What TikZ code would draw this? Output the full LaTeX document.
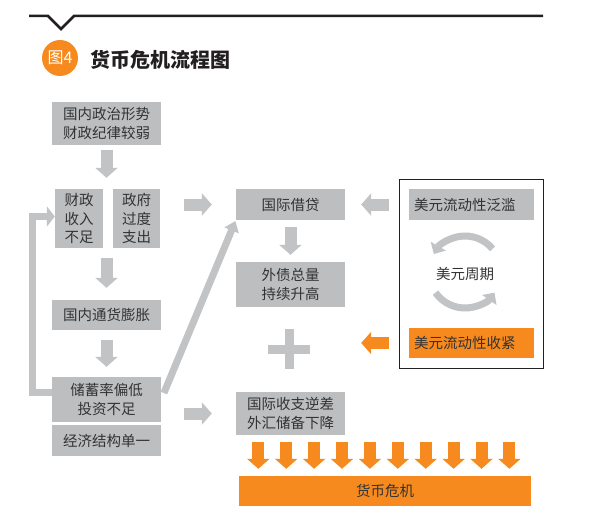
\documentclass[tikz,border=0pt]{standalone}
\usepackage{fontspec}
\newfontfamily\cjk{Noto Sans CJK SC}
\usetikzlibrary{arrows.meta,calc}
\definecolor{boxgray}{HTML}{BCBEC0}
\definecolor{argray}{HTML}{C2C3C5}
\definecolor{orng}{HTML}{F68A1F}
\definecolor{txt}{HTML}{333333}
\definecolor{ink}{HTML}{231F20}
\begin{document}
\begin{tikzpicture}[x=1pt,y=-1pt,
  gbox/.style={fill=boxgray, inner sep=0pt, text=txt, font=\cjk\fontsize{14.5pt}{18.5pt}\selectfont, align=center},
  barrow/.style={draw=argray, line width=12pt, -{Triangle[length=10pt,width=22pt]}},
  oarrow/.style={barrow, draw=orng},
  thinarrow/.style={draw=argray, line width=7pt, -{Triangle[length=9pt,width=17pt]}}]
\fill[white] (0,0) rectangle (605,527);
\useasboundingbox (0,0) rectangle (605,527);
% header
\draw[ink, line width=2.5pt] (29,16) -- (48,16) -- (61,29) -- (74,16) -- (543,16);
\node[circle, fill=orng, minimum size=36pt, inner sep=0pt, text=white, font=\cjk\fontsize{16}{16}\selectfont] (badge) at (60,58) {图4};
\node[anchor=west, inner sep=0pt, text=ink, font=\cjk\bfseries\fontsize{20}{20}\selectfont] (title) at (90,60) {货币危机流程图};
% left column
\node[gbox, minimum width=109pt, minimum height=43pt] (b1) at (106.5,123.5) {国内政治形势\\财政纪律较弱};
\node[gbox, minimum width=48pt, minimum height=59pt] (fin) at (79,218.5) {财政\\收入\\不足};
\node[gbox, minimum width=47pt, minimum height=59pt] (gov) at (136.5,218.5) {政府\\过度\\支出};
\node[gbox, minimum width=109pt, minimum height=30pt] (infl) at (106.5,315) {国内通货膨胀};
\node[gbox, minimum width=109pt, minimum height=45pt] (sav) at (106.5,399.5) {储蓄率偏低\\投资不足};
\node[gbox, minimum width=109pt, minimum height=31pt] (econ) at (106.5,440.5) {经济结构单一};
% middle column
\node[gbox, minimum width=109pt, minimum height=31pt] (loan) at (290.5,204.5) {国际借贷};
\node[gbox, minimum width=109pt, minimum height=45pt] (debt) at (290.5,284.5) {外债总量\\持续升高};
\node[gbox, minimum width=109pt, minimum height=43pt] (bop) at (290.5,413.5) {国际收支逆差\\外汇储备下降};
% right frame
\node[draw=ink, line width=1pt, minimum width=144pt, minimum height=189pt, inner sep=0pt] (frame) at (471,273.5) {};
\node[gbox, text width=115pt, align=left, inner xsep=5pt, minimum height=31pt] (flood) at (471.5,204.5) {美元流动性泛滥};
\node[gbox, fill=orng, text width=115pt, align=left, inner xsep=5pt, minimum height=30pt] (tight) at (471.5,343) {美元流动性收紧};
\node[inner sep=0pt, text=txt, font=\cjk\fontsize{14.5pt}{18.5pt}\selectfont] (cycle) at (465,274) {美元周期};
\draw[thinarrow] ($(cycle)+(0,-2)$) ++(-40:36) arc[start angle=-40, end angle=-150, radius=36];
\draw[thinarrow] ($(cycle)+(0,-2)$) ++(-215:36) arc[start angle=-215, end angle=-325, radius=36];
% crisis bar
\node[gbox, fill=orng, minimum width=292pt, minimum height=30pt] (crisis) at (385,491) {货币危机};
% arrows
\draw[barrow, shorten <=5pt, shorten >=11pt] (b1.south) -- (b1.south |- fin.north);
\draw[barrow, shorten <=10pt, shorten >=12pt] (b1.south |- fin.south) -- (infl.north);
\draw[barrow, shorten <=10pt, shorten >=10pt] (infl.south) -- (sav.north);
\draw[barrow, shorten <=24pt, shorten >=24pt] (gov.east |- loan.west) -- (loan.west);
\draw[barrow, shorten <=23pt, shorten >=24pt] (sav.east |- bop.west) -- (bop.west);
\draw[barrow, shorten <=7pt, shorten >=7pt] (loan.south) -- (debt.north);
\draw[barrow, shorten <=20pt, shorten >=16pt] (flood.west) -- (loan.east);
\draw[oarrow, shorten <=20pt, shorten >=16pt] (tight.west) -- (tight.west -| loan.east);
\draw[thinarrow, -{Triangle[length=10pt,width=15pt]}, shorten <=7pt, shorten >=1pt] (sav.east) -- (loan.south west);
\draw[thinarrow, -{Triangle[length=8pt,width=20pt]}] ([yshift=7.5pt]sav.west) -- ++(-19,0) |- ([yshift=2pt]fin.west);
% plus sign
\coordinate (plus) at (289,349);
\fill[argray] ($(plus)+(-21,-4.5)$) rectangle ($(plus)+(21,4.5)$);
\fill[argray] ($(plus)+(-4.5,-20)$) rectangle ($(plus)+(4.5,20)$);
% orange arrows into crisis
\foreach \i in {0,...,9}{
  \draw[oarrow] ($(crisis.north west)+(19.5+27.9*\i,-34)$) -- ++(0,27);
}
\end{tikzpicture}
\end{document}
